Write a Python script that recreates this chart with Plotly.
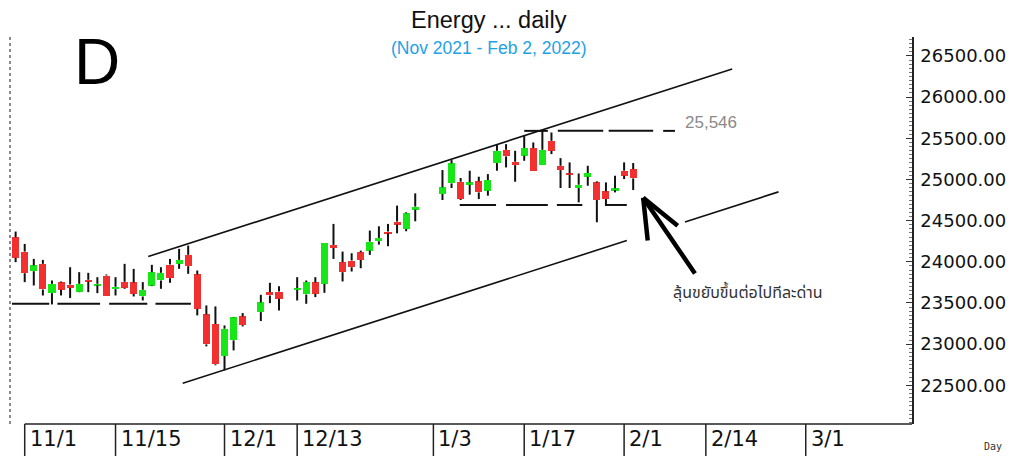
import numpy as np
import plotly.graph_objects as go

# ---------------- data ----------------
dates = [
    "2021-10-29", "2021-11-01", "2021-11-02", "2021-11-03", "2021-11-04", "2021-11-05",
    "2021-11-08", "2021-11-09", "2021-11-10", "2021-11-11", "2021-11-12",
    "2021-11-15", "2021-11-16", "2021-11-17", "2021-11-18", "2021-11-19",
    "2021-11-22", "2021-11-23", "2021-11-24", "2021-11-25", "2021-11-26",
    "2021-11-29", "2021-11-30", "2021-12-01", "2021-12-02", "2021-12-03",
    "2021-12-07", "2021-12-08", "2021-12-09",
    "2021-12-13", "2021-12-14", "2021-12-15", "2021-12-16", "2021-12-17",
    "2021-12-20", "2021-12-21", "2021-12-22", "2021-12-23", "2021-12-24",
    "2021-12-27", "2021-12-28", "2021-12-29", "2021-12-30",
    "2022-01-04", "2022-01-05", "2022-01-06", "2022-01-07",
    "2022-01-10", "2022-01-11", "2022-01-12", "2022-01-13", "2022-01-14",
    "2022-01-17", "2022-01-18", "2022-01-19", "2022-01-20", "2022-01-21",
    "2022-01-24", "2022-01-25", "2022-01-26", "2022-01-27", "2022-01-28",
    "2022-01-31", "2022-02-01", "2022-02-02",
]
opens = [
    24298, 24124, 23886, 23975, 23619, 23749,
    23724, 23635, 23781, 23716, 23833,
    23668, 23757, 23749, 23579, 23712,
    23773, 23967, 23975, 24084, 23846,
    23361, 23244, 22856, 23046, 23336,
    23389, 23631, 23639,
    23660, 23603, 23749, 23732, 24205,
    23995, 24015, 24116, 24136, 24250,
    24367, 24488, 24399, 24633,
    24823, 24952, 24972, 24936,
    24977, 24863, 25199, 25360, 25215,
    25288, 25381, 25179, 25469, 25166,
    25073, 24896, 25033, 24964, 24855,
    24871, 25106, 25126,
]
highs = [
    24367, 24217, 24035, 24023, 23773, 23761,
    23934, 23874, 23866, 23813, 23846,
    23813, 23975, 23914, 23753, 23963,
    23934, 24035, 24157, 24197, 23894,
    23470, 23458, 23227, 23328, 23377,
    23599, 23745, 23704,
    23813, 23773, 23813, 24225, 24460,
    24124, 24104, 24136, 24379, 24431,
    24460, 24682, 24601, 24831,
    25114, 25235, 25017, 25106,
    25033, 25065, 25429, 25429, 25348,
    25530, 25449, 25591, 25570, 25259,
    25207, 25073, 25166, 24977, 24964,
    25045, 25207, 25199,
]
lows = [
    23995, 23753, 23712, 23591, 23482, 23591,
    23559, 23631, 23631, 23619, 23579,
    23591, 23672, 23579, 23530, 23704,
    23672, 23745, 23914, 23854, 23349,
    22973, 22743, 22682, 22924, 23215,
    23280, 23498, 23409,
    23530, 23490, 23571, 23623, 24035,
    23761, 23882, 23922, 24084, 24209,
    24189, 24346, 24371, 24492,
    24750, 24896, 24750, 24815,
    24762, 24803, 25106, 25146, 24972,
    25227, 25106, 25179, 25308, 24896,
    24896, 24722, 24924, 24480, 24682,
    24843, 25005, 24871,
]
closes = [
    24048, 23862, 23955, 23664, 23732, 23660,
    23684, 23732, 23761, 23732, 23579,
    23696, 23684, 23611, 23660, 23874,
    23866, 23801, 24023, 23947, 23429,
    22997, 22755, 23187, 23324, 23231,
    23506, 23591, 23551,
    23680, 23753, 23611, 24225, 24169,
    23874, 23934, 24023, 24245, 24290,
    24346, 24452, 24589, 24670,
    24904, 25195, 24762, 24964,
    24843, 24993, 25348, 25280, 25174,
    25381, 25106, 25360, 25348, 25114,
    25057, 24936, 25078, 24750, 24762,
    24892, 25045, 25013,
]

tick_dates = ["2021-11-01", "2021-11-15", "2021-12-01", "2021-12-13", "2022-01-03",
              "2022-01-17", "2022-02-01", "2022-02-14", "2022-03-01"]
tick_labels = ["11/1", "11/15", "12/1", "12/13", "1/3", "1/17", "2/1", "2/14", "3/1"]

# horizontal levels (support / resistance) and their dash segments (in weekday slots)
support_low = 23490
support_mid = 24690
resistance = 25590
resistance_label = "25,546"
low_segments = [(-0.4, 3.7), (4.6, 9.3), (10.3, 14.5), (15.4, 19.3)]
mid_segments = [(48.9, 52.9), (54.0, 58.6), (59.6, 62.4), (64.9, 67.3)]
top_segments = [(56.0, 58.6), (59.7, 64.7), (65.3, 70.2), (71.3, 72.6)]

# trend channel (slot, value)
upper_channel = [(14.6, 24064), (78.9, 26342)]
lower_channel = [[(18.4, 22524), (67.3, 24258)], [(73.7, 24484), (84.0, 24849)]]
arrow_tail = (74.8, 23858)
arrow_tip = (69.1, 24779)
arrow_barbs = [(69.6, 24258), (72.9, 24439)]

title_text = "Energy ... daily"
subtitle_text = "(Nov 2021 - Feb 2, 2022)"
note_text = "ลุ้นขยับขึ้นต่อไปทีละด่าน"

# ---------------- build ----------------
origin = "2021-10-29"


def slot(d):
    return int(np.busday_count(origin, d))


xs = [slot(d) for d in dates]
tick_x = [slot(d) for d in tick_dates]

UP = "#17e617"
DOWN = "#f23030"

wx, wy = [], []
for x, o, h, l, c in zip(xs, opens, highs, lows, closes):
    top, bot = max(o, c), min(o, c)
    wx += [x, x, None, x, x, None]
    wy += [h, top, None, bot, l, None]

body_base = [min(o, c) for o, c in zip(opens, closes)]
body_h = [max(abs(c - o), 10) for o, c in zip(opens, closes)]
body_col = [UP if c > o else DOWN for o, c in zip(opens, closes)]

fig = go.Figure()
fig.add_trace(go.Bar(x=xs, y=body_h, base=body_base, width=0.78,
                     marker=dict(color=body_col, line=dict(width=0)),
                     hoverinfo="skip", showlegend=False))
fig.add_trace(go.Scatter(x=wx, y=wy, mode="lines",
                         line=dict(color="#111111", width=2),
                         hoverinfo="skip", showlegend=False))

shapes = []
LINE = dict(color="#111111", width=1.6)
for segs, lvl in ((low_segments, support_low), (mid_segments, support_mid), (top_segments, resistance)):
    for a, b in segs:
        shapes.append(dict(type="line", xref="x", yref="y", x0=a, x1=b, y0=lvl, y1=lvl,
                           line=dict(color="#111111", width=2)))
shapes.append(dict(type="line", xref="x", yref="y",
                   x0=upper_channel[0][0], y0=upper_channel[0][1],
                   x1=upper_channel[1][0], y1=upper_channel[1][1], line=LINE))
for seg in lower_channel:
    shapes.append(dict(type="line", xref="x", yref="y",
                       x0=seg[0][0], y0=seg[0][1], x1=seg[1][0], y1=seg[1][1], line=LINE))
ARW = dict(color="#000000", width=4.5)
shapes.append(dict(type="line", xref="x", yref="y", x0=arrow_tail[0], y0=arrow_tail[1],
                   x1=arrow_tip[0], y1=arrow_tip[1], line=ARW))
for bx, by in arrow_barbs:
    shapes.append(dict(type="line", xref="x", yref="y", x0=arrow_tip[0], y0=arrow_tip[1],
                       x1=bx, y1=by, line=ARW))

XMAX = 98.7
# bottom axis line
shapes.append(dict(type="line", xref="x", yref="paper", x0=tick_x[0], x1=XMAX, y0=0, y1=0,
                   line=dict(color="#222222", width=1.5)))
# date separators
for tx in tick_x:
    shapes.append(dict(type="line", xref="x", yref="paper", x0=tx, x1=tx, y0=0, y1=-0.085,
                       line=dict(color="#222222", width=1.5)))
# left dotted axis
shapes.append(dict(type="line", xref="paper", yref="paper", x0=0, x1=0, y0=0, y1=1,
                   line=dict(color="#666666", width=1.5, dash="dot")))

annotations = []
for tx, lab in zip(tick_x, tick_labels):
    annotations.append(dict(x=tx, y=-0.040, xref="x", yref="paper", text=lab, showarrow=False,
                            xanchor="left", yanchor="middle", xshift=3,
                            font=dict(family="DejaVu Sans, Verdana, sans-serif",
                                      size=21, color="#111111")))
annotations += [
    dict(x=0.531, y=1.044, xref="paper", yref="paper", text=title_text, showarrow=False,
         xanchor="center", yanchor="middle",
         font=dict(family="Liberation Sans, Arial, sans-serif", size=23.5, color="#111111")),
    dict(x=0.531, y=0.9716, xref="paper", yref="paper", text=subtitle_text, showarrow=False,
         xanchor="center", yanchor="middle",
         font=dict(family="Liberation Sans, Arial, sans-serif", size=17.5, color="#1ea2e6")),
    dict(x=0.0965, y=0.935, xref="paper", yref="paper", text="D", showarrow=False,
         xanchor="center", yanchor="middle",
         font=dict(family="Liberation Sans, Arial, sans-serif", size=64, color="#000000")),
    dict(x=0.746, y=0.778, xref="paper", yref="paper", text=resistance_label, showarrow=False,
         xanchor="left", yanchor="middle",
         font=dict(family="Liberation Sans, Arial, sans-serif", size=17, color="#8a8a8a")),
    dict(x=0.733, y=0.3385, xref="paper", yref="paper", text=note_text, showarrow=False,
         xanchor="left", yanchor="middle",
         font=dict(family="Noto Sans Thai, Loma, Garuda, Tahoma, sans-serif", size=16, color="#333333")),
    dict(x=1.0898, y=-0.059, xref="paper", yref="paper", text="Day", showarrow=False,
         xanchor="center", yanchor="middle",
         font=dict(family="DejaVu Sans Mono, monospace", size=10, color="#333333")),
]

# the page body has an 8px default margin, so the figure is 8px smaller than the window
fig.update_layout(
    width=1011, height=448,
    margin=dict(l=2, r=107, t=29, b=32, pad=0),
    paper_bgcolor="white", plot_bgcolor="white",
    shapes=shapes, annotations=annotations,
    showlegend=False, bargap=0,
    xaxis=dict(range=[-0.62, XMAX], showticklabels=False, showgrid=False, zeroline=False,
               showline=False, ticks="", fixedrange=True),
    yaxis=dict(range=[22030, 26730], side="right", tickmode="linear", tick0=22500, dtick=500,
               tickformat=".2f", showgrid=False, zeroline=False,
               showline=True, linecolor="#222222", linewidth=1.5,
               ticks="inside", ticklen=6, tickcolor="#333333",
               minor=dict(tick0=22500, dtick=50, ticks="inside", ticklen=3, tickcolor="#777777"),
               tickfont=dict(family="DejaVu Sans, Verdana, sans-serif", size=18, color="#111111"),
               ticklabelstandoff=3, fixedrange=True),
)

fig.write_html("out.html")
